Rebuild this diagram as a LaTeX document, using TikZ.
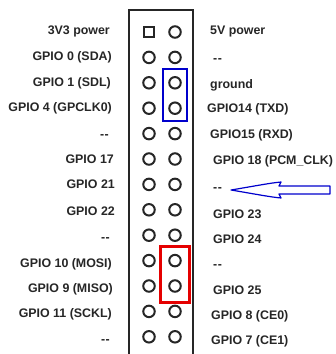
\documentclass[tikz,border=0pt]{standalone}
\usepackage{fontspec}
\setmainfont{Liberation Sans}
\newcommand{\dd}{-\kern0.5pt-}
\tikzset{
  lbl/.style={font=\fontsize{12.4}{14}\selectfont\bfseries, text=black!85, inner sep=0pt},
  lleft/.style={lbl, anchor=mid east},
  lright/.style={lbl, anchor=mid west},
  pin/.style={circle, draw=black!85, line width=2pt, minimum size=11.5pt, inner sep=0pt},
  sqpin/.style={rectangle, draw=black!85, line width=1.7pt, minimum size=10.5pt, inner sep=0pt},
}
\begin{document}
\begin{tikzpicture}[x=1pt,y=-1pt]
\useasboundingbox (0,0) rectangle (336,354);
% header outline
\draw[line width=2pt, black!85] (129,360) -- (129,10) -- (193,10) -- (193,360);
% pins
\node[sqpin] (L0) at (149,32) {};
\node[pin] (R0) at (175,32) {};
\foreach \i in {1,...,12}{
  \pgfmathsetmacro\yy{32+25.4*\i}
  \node[pin] (L\i) at (149,\yy) {};
  \node[pin] (R\i) at (175,\yy) {};
}
% highlight boxes
\draw[blue!80!black, line width=1.3pt] (163,69) rectangle (187,121);
\draw[red!90!black, line width=3pt] (160,246) rectangle (189,302);
% left labels
\node[lleft] (l0) at (110,32) {3V3 power};
\node[lleft] (l1) at (112,58) {GPIO 0 (SDA)};
\node[lleft] (l2) at (111,84) {GPIO 1 (SDL)};
\node[lleft] (l3) at (112,109) {GPIO 4 (GPCLK0)};
\node[lleft] (l4) at (109,136) {\dd};
\node[lleft] (l5) at (114,161) {GPIO 17};
\node[lleft] (l6) at (115,186) {GPIO 21};
\node[lleft] (l7) at (115,213) {GPIO 22};
\node[lleft] (l8) at (110,239) {\dd};
\node[lleft] (l9) at (112,265) {GPIO 10 (MOSI)};
\node[lleft] (l10) at (113,290) {GPIO 9 (MISO)};
\node[lleft] (l11) at (112,315) {GPIO 11 (SCKL)};
\node[lleft] (l12) at (110,341) {\dd};
% right labels
\node[lright] (r0) at (210,32) {5V power};
\node[lright] (r1) at (213,60) {\dd};
\node[lright] (r2) at (210,86) {ground};
\node[lright] (r3) at (207,110) {GPIO14 (TXD)};
\node[lright] (r4) at (210,136) {GPIO15 (RXD)};
\node[lright] (r5) at (213,162) {GPIO 18 (PCM\_CLK)};
\node[lright] (r6) at (213,189) {\dd};
\node[lright] (r7) at (213,216) {GPIO 23};
\node[lright] (r8) at (213,241) {GPIO 24};
\node[lright] (r9) at (213,266) {\dd};
\node[lright] (r10) at (213,292) {GPIO 25};
\node[lright] (r11) at (211,317) {GPIO 8 (CE0)};
\node[lright] (r12) at (211,342) {GPIO 7 (CE1)};
% arrow
\draw[blue!80!black, line width=1.2pt, line join=round]
  (231,190) .. controls (255,186) and (270,183) .. (281,182)
  -- (279,186) -- (330,186) -- (330,194) -- (279,194) -- (281,198)
  .. controls (270,197) and (255,194) .. (231,190) -- cycle;
\end{tikzpicture}
\end{document}
